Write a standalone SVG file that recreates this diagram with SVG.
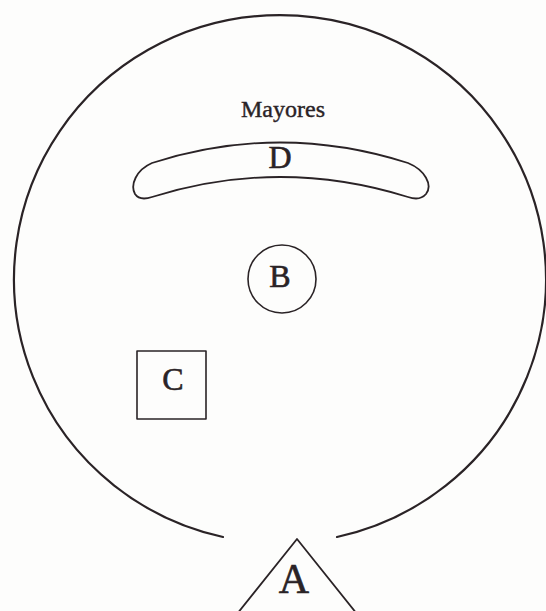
<svg xmlns="http://www.w3.org/2000/svg" width="546" height="611" viewBox="0 0 546 611">
<style>
.ln{fill:none;stroke:#2a2326;stroke-linecap:round;stroke-linejoin:round}
.lbl{font-family:"Liberation Serif","DejaVu Serif",serif;fill:#2a2326;stroke:#2a2326;stroke-width:0.6;text-anchor:middle}
</style>
<rect width="546" height="611" fill="#fdfdfc"/>
<g id="area">
<path class="ln" stroke-width="2.2" d="M 223 537 A 266 264 0 1 1 337 537"/>
<text class="lbl" x="283" y="117" font-size="24" style="stroke-width:0.4">Mayores</text>
</g>
<g id="D">
<path class="ln" stroke-width="1.8" d="M 152 163 Q 280 122 408 163 C 425 170 433 185 426 194 C 421 200 414 199 408 197 Q 280 157 152 197 C 146 199 139 200 135 194 C 130 185 136 170 152 163 Z"/>
<text class="lbl" x="280" y="168" font-size="32">D</text>
</g>
<g id="B">
<circle class="ln" stroke-width="1.6" cx="282" cy="279" r="34"/>
<text class="lbl" x="280" y="287" font-size="32">B</text>
</g>
<g id="C">
<rect class="ln" stroke-width="1.6" x="137" y="351" width="69" height="68"/>
<text class="lbl" x="173" y="390" font-size="32">C</text>
</g>
<g id="A">
<polygon class="ln" stroke-width="1.8" points="297,539 229,624 365,624"/>
<text class="lbl" x="294" y="593" font-size="42">A</text>
</g>
<g id="connectors"/>
</svg>
